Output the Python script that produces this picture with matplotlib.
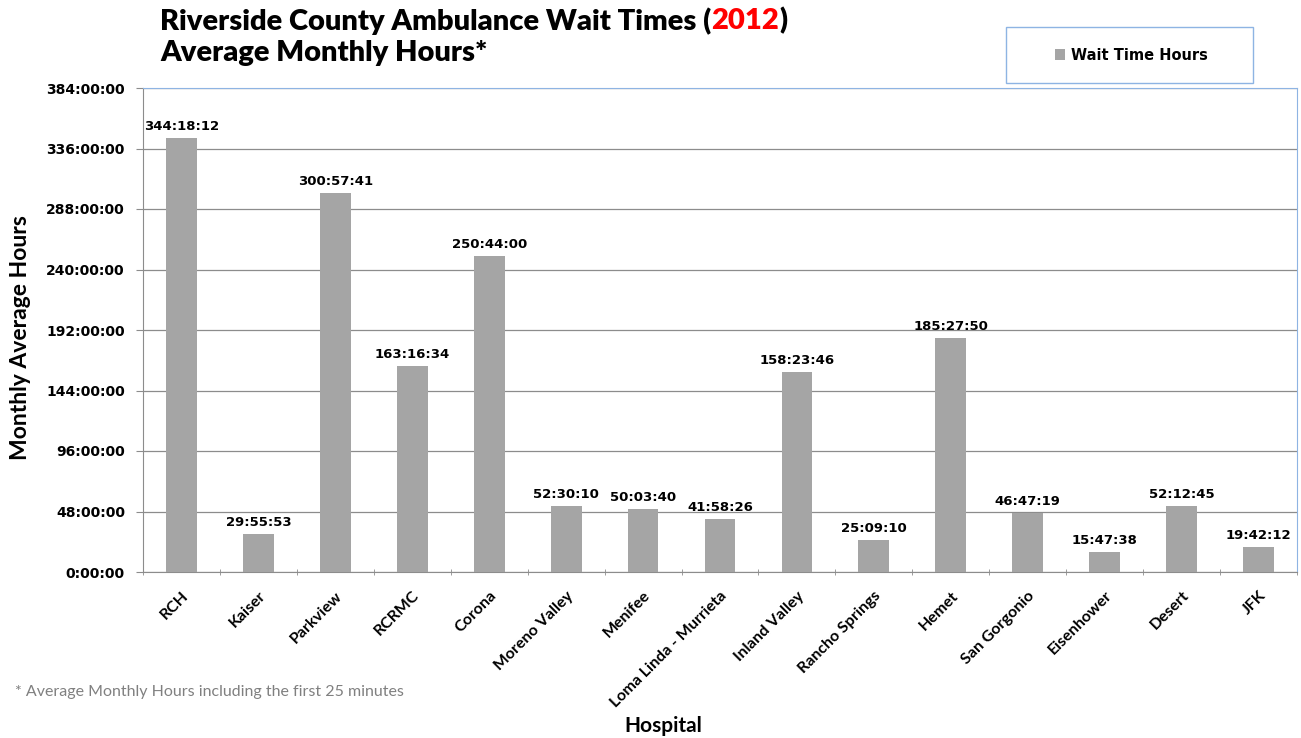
import numpy as np
import matplotlib
matplotlib.use("Agg")
from matplotlib import pyplot as plt
from matplotlib.patches import Rectangle

# hospitals and their average monthly wait (as printed on the bars)
hospitals = ["RCH", "Kaiser", "Parkview", "RCRMC", "Corona", "Moreno Valley", "Menifee",
             "Loma Linda - Murrieta", "Inland Valley", "Rancho Springs", "Hemet",
             "San Gorgonio", "Eisenhower", "Desert", "JFK"]
waitLabels = ["344:18:12", "29:55:53", "300:57:41", "163:16:34", "250:44:00", "52:30:10",
              "50:03:40", "41:58:26", "158:23:46", "25:09:10", "185:27:50", "46:47:19",
              "15:47:38", "52:12:45", "19:42:12"]
yTicks = [0, 48, 96, 144, 192, 240, 288, 336, 384]


def uSate(s):
    h, m, sec = [int(v) for v in s.split(":")]
    return h + m / 60 + sec / 3600


satiVrednosti = [uSate(s) for s in waitLabels]

plt.rcParams['font.family'] = ['Lato', 'DejaVu Sans']
fig = plt.figure(figsize=(13.01, 7.38), dpi=100)
ax = fig.add_axes([143 / 1301, 1 - 572 / 738, (1297 - 143) / 1301, (572 - 88) / 738])

x = np.arange(len(hospitals))
bars = ax.bar(x, satiVrednosti, width=0.4, color='#a5a5a5', zorder=3, label='Wait Time Hours')
for xi, v, lab in zip(x, satiVrednosti, waitLabels):
    ax.text(xi, v + 4, lab, ha='center', va='bottom', fontsize=9.5, fontweight='bold',
            family='DejaVu Sans', zorder=4)

ax.set_xlim(-0.5, len(hospitals) - 0.5)
ax.set_ylim(0, 384)
ax.set_yticks(yTicks)
ax.set_yticklabels(["%d:00:00" % t for t in yTicks], fontsize=10, fontweight='bold',
                   family='DejaVu Sans')
ax.yaxis.grid(True, color='#8c8c8c', linewidth=0.9, zorder=0)
ax.set_xticks(x)
ax.set_xticklabels(hospitals, rotation=45, ha='right', rotation_mode='anchor',
                   fontsize=11.5, fontweight='bold')
ax.tick_params(axis='x', length=0, pad=12)
ax.set_xticks(np.arange(-0.5, len(hospitals), 1), minor=True)
ax.tick_params(axis='x', which='minor', length=5, color='#8c8c8c', direction='inout')
ax.tick_params(axis='y', length=5, color='#8c8c8c', pad=8)
for s in ['left', 'bottom']:
    ax.spines[s].set_color('#8c8c8c')
for s in ['top', 'right']:
    ax.spines[s].set_color('#8eb4e3')

fig.text(21 / 1301, 1 - 338 / 738, 'Monthly Average Hours', rotation=90, ha='center', va='center',
         fontsize=16.5, fontweight='bold')
fig.text(663 / 1301, 1 - 726 / 738, 'Hospital', ha='center', va='center',
         fontsize=15, fontweight='bold')
fig.text(15 / 1301, 1 - 692 / 738, '* Average Monthly Hours including the first 25 minutes',
         ha='left', va='center', fontsize=11.5, color='#808080')

# naslov, "2012" crveno
delovi = [("Riverside County Ambulance Wait Times (", 'black'), ("2012", '#ff0000'), (")", 'black')]
fig.canvas.draw()
r = fig.canvas.get_renderer()
xpos = 160
for tekst, boja in delovi:
    t = fig.text(xpos / 1301, 1 - 21 / 738, tekst, fontsize=21, fontweight='heavy', color=boja,
                 ha='left', va='center')
    xpos += t.get_window_extent(renderer=r).width
fig.text(160 / 1301, 1 - 53 / 738, "Average Monthly Hours*", fontsize=21, fontweight='heavy',
         ha='left', va='center')

# legenda
okvir = Rectangle((1006 / 1301, 1 - 83 / 738), (1253 - 1006) / 1301, (83 - 27) / 738,
                  transform=fig.transFigure, facecolor='white', edgecolor='#8eb4e3', linewidth=1.0)
fig.patches.append(okvir)
fig.legend(handles=[bars], loc='center', bbox_to_anchor=(1131 / 1301, 1 - 55 / 738),
           frameon=False, handlelength=0.7, handleheight=0.7, handletextpad=0.4,
           prop={'weight': 'bold', 'size': 10.5, 'family': 'DejaVu Sans'})

plt.savefig('out.png', dpi=100)
